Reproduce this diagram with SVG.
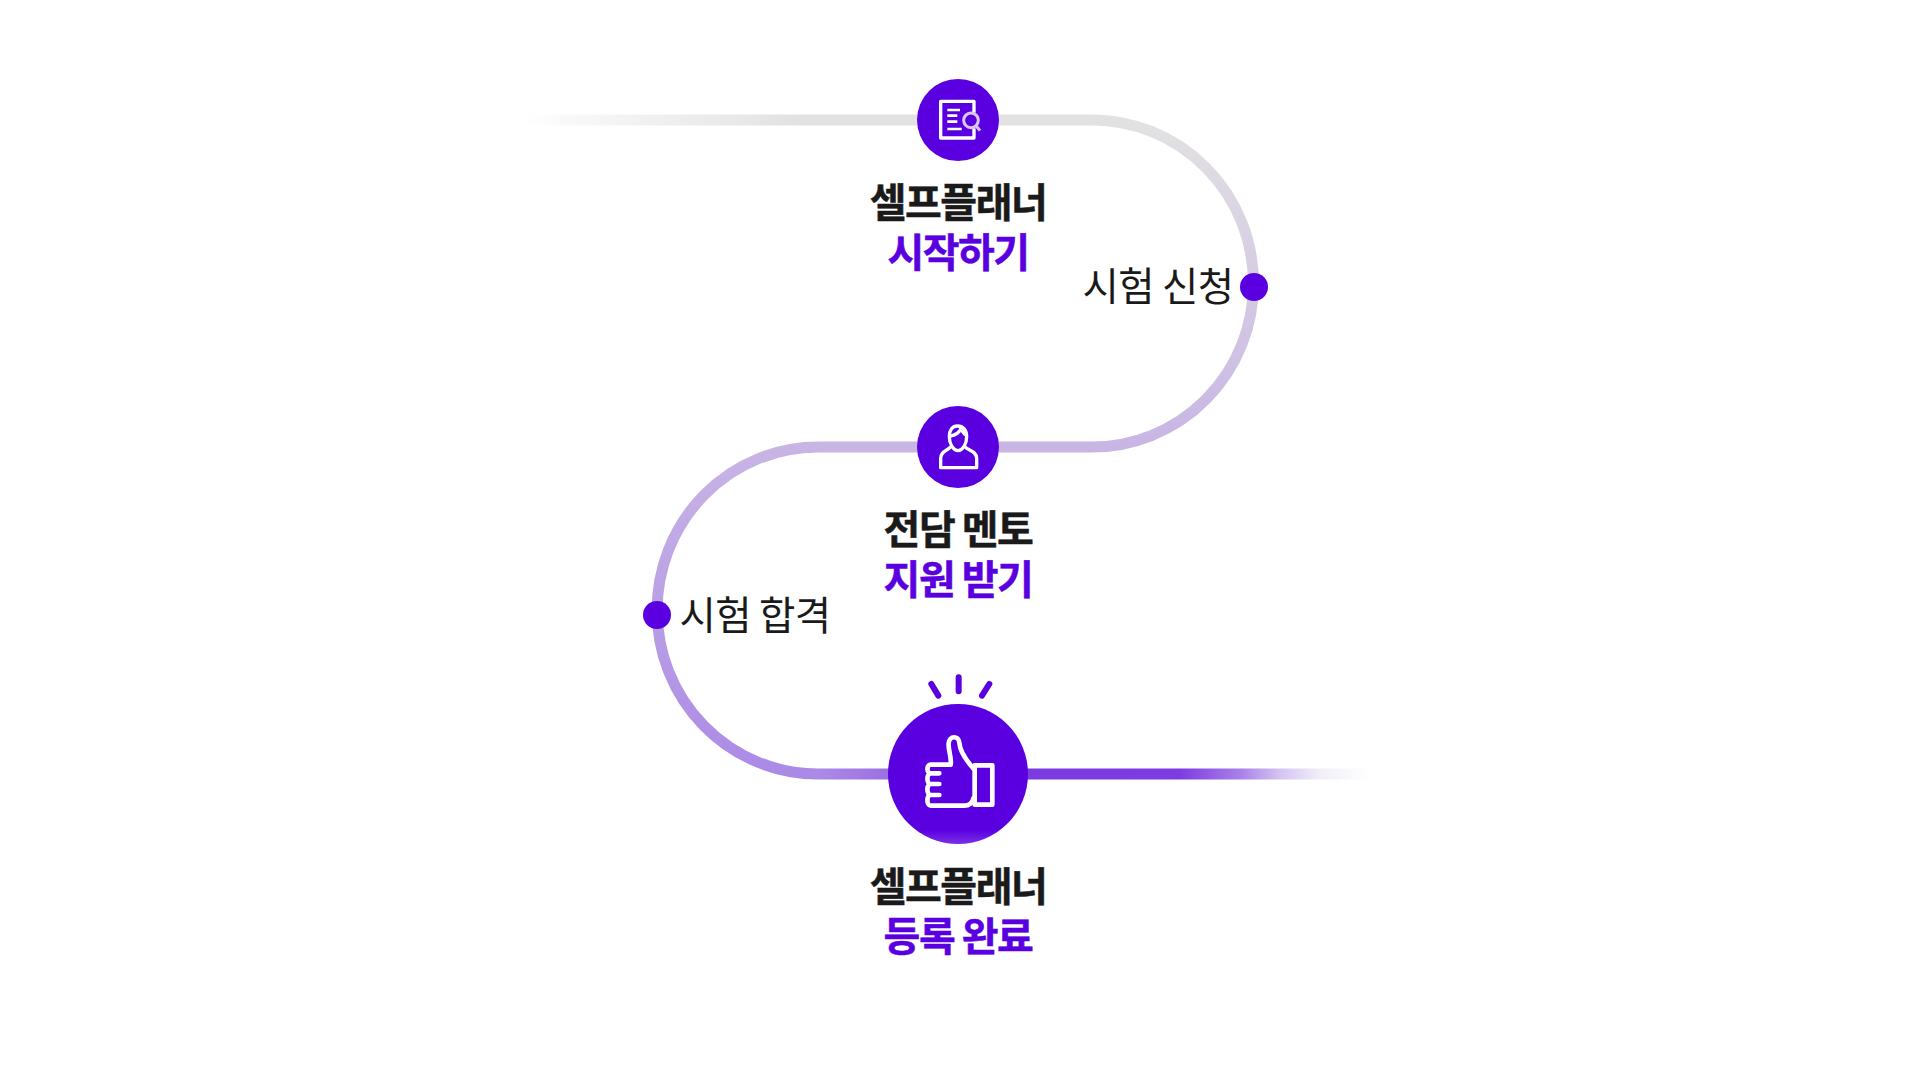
<svg xmlns="http://www.w3.org/2000/svg" width="1920" height="1084" viewBox="0 0 1920 1084">
<style>
.seg{fill:none;stroke-width:11}
.t{font-family:"Noto Sans CJK KR","Noto Sans",sans-serif;text-anchor:middle}
.b{font-size:40px;font-weight:700;letter-spacing:-1.5px;stroke-width:.5px}
.d{fill:#1a1a1a;stroke:#1a1a1a}
.p{fill:#5a00e0;stroke:#5a00e0}
.r{font-size:39.5px;font-weight:400;fill:#1a1a1a;letter-spacing:-.6px}
.ic{fill:none;stroke:#fff;stroke-width:10;stroke-linejoin:round}
.ball{fill:#5a00e0}
</style>
<defs>
<linearGradient id="g1" gradientUnits="userSpaceOnUse" x1="525" y1="0" x2="800" y2="0"><stop offset="0" stop-color="#e2e2e2" stop-opacity="0"/><stop offset=".15" stop-color="#e2e2e2" stop-opacity=".2"/><stop offset="1" stop-color="#e2e2e2"/></linearGradient>
<linearGradient id="g2" gradientUnits="userSpaceOnUse" x1="0" y1="120" x2="0" y2="447"><stop offset="0" stop-color="#e2e2e2"/><stop offset="1" stop-color="#c8b5e4"/></linearGradient>
<linearGradient id="g3" gradientUnits="userSpaceOnUse" x1="0" y1="447" x2="0" y2="774"><stop offset="0" stop-color="#c8b5e4"/><stop offset="1" stop-color="#ab8ae6"/></linearGradient>
<linearGradient id="g4" gradientUnits="userSpaceOnUse" x1="818" y1="0" x2="1400" y2="0"><stop offset="0" stop-color="#ab8ae6"/><stop offset=".124" stop-color="#9b6fe2"/><stop offset=".364" stop-color="#7b3be0"/><stop offset=".622" stop-color="#7d3ce2"/><stop offset=".725" stop-color="#a880e8"/><stop offset=".794" stop-color="#d4c4f2"/><stop offset=".863" stop-color="#f2eff8"/><stop offset=".95" stop-color="#fff"/></linearGradient>
<linearGradient id="g5" x1="0" y1="0" x2="0" y2="1"><stop offset=".9" stop-color="#5a00e0"/><stop offset="1" stop-color="#7a30e6"/></linearGradient>
</defs>
<g id="connectors">
<path class="seg" stroke="url(#g1)" d="M525 120H800"/>
<path class="seg" stroke="#e2e2e2" d="M800 120H1092"/>
<path class="seg" stroke="url(#g2)" d="M1092 120A161.5 163.5 0 0 1 1092 447"/>
<path class="seg" stroke="#c8b5e4" d="M1092 447H818"/>
<path class="seg" stroke="url(#g3)" d="M818 447A161 163.5 0 0 0 818 774"/>
<path class="seg" stroke="url(#g4)" d="M818 774H1400"/>
</g>
<g id="node-start">
<circle class="ball" cx="958" cy="120" r="41"/>
<g transform="translate(860 50) scale(.3333)">
<path class="ic" d="M342 188V154H242V264H342V235"/>
<path class="ic" style="stroke-width:8" d="M262 180H300M262 197H292M262 215H292M262 237H305"/>
<circle cx="333" cy="211" r="22" fill="none" stroke="#d9c8f5" stroke-width="9"/>
<path d="M349 228L360 242" stroke="#d9c8f5" stroke-width="9" fill="none"/>
</g>
<text class="t b d" x="958" y="217">셀프플래너</text>
<text class="t b p" x="958" y="267">시작하기</text>
</g>
<g id="node-apply">
<circle class="ball" cx="1254" cy="287" r="14"/>
<text class="t r" x="1158" y="301">시험 신청</text>
</g>
<g id="node-mentor">
<circle class="ball" cx="958" cy="447" r="41"/>
<g transform="translate(860 390) scale(.3333)">
<path class="ic" d="M293 108C277 108 268 120 268 140C268 162 280 182 294 182C308 182 320 162 320 140C320 120 309 108 293 108Z"/>
<path class="ic" d="M270 138C288 136 298 128 304 114C306 124 312 132 319 136"/>
<path class="ic" d="M272 170C265 182 242 182 242 205V233H350V205C350 182 322 182 315 170"/>
</g>
<text class="t b d" x="958" y="544">전담 멘토</text>
<text class="t b p" x="958" y="594">지원 받기</text>
</g>
<g id="node-pass">
<circle class="ball" cx="657" cy="615" r="14"/>
<text class="t r" x="755" y="630">시험 합격</text>
</g>
<g id="node-done">
<circle cx="958" cy="774" r="70" fill="url(#g5)"/>
<g transform="translate(860 660) scale(.3333)">
<path d="M296 52V94M214 72L235 107M388 72L366 107" stroke="#5a00e0" stroke-width="18" stroke-linecap="round" fill="none"/>
<path class="ic" style="stroke-width:14;stroke-linecap:round" d="M340 325C322 305 300 275 298 248C296 226 268 226 266 250C264 270 276 295 272 314H212C199 314 199 340 212 340H238M212 340C199 340 199 372 212 372H238M212 372C199 372 199 405 212 405H238M212 405C199 405 199 437 212 437H312C328 437 338 428 340 415"/>
<rect class="ic" style="stroke-width:14" x="344" y="316" width="53" height="118"/>
</g>
<text class="t b d" x="958" y="901">셀프플래너</text>
<text class="t b p" x="958" y="951">등록 완료</text>
</g>
</svg>
